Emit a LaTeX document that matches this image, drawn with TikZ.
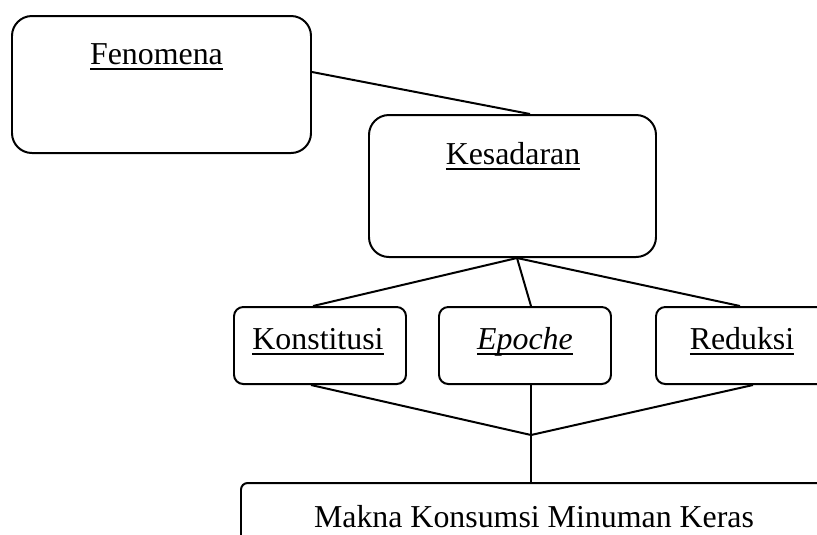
\documentclass[tikz,border=0pt]{standalone}
\usepackage{fontspec}
\setmainfont{Liberation Serif}
\usetikzlibrary{fit,calc}

\newcommand\ulword[1]{\setbox0\hbox{#1}\rlap{\rule[-2.1pt]{\wd0}{0.55pt}}\box0}

\tikzset{
	box/.style={draw, inner sep=0pt, rounded corners=7.5pt},
	smallbox/.style={box, rounded corners=3.5pt},
	lbl/.style={anchor=base, inner sep=0pt, font=\fontsize{12}{14}\selectfont},
}

\begin{document}
\begin{tikzpicture}[x=0.3765pt, y=-0.3765pt, line width=0.75pt]
		\useasboundingbox (0,0) rectangle (817,534);
		\clip (0,0) rectangle (817,534);
		% boxes
		\node[box, fit={(12,16) (311,153)}] (fen) {};
		\node[box, fit={(369,115) (656,257)}] (kes) {};
		\node[smallbox, fit={(234,307) (406,384)}] (kon) {};
		\node[smallbox, fit={(439,307) (611,384)}] (epo) {};
		\node[smallbox, fit={(656,307) (828,384)}] (red) {};
		\node[smallbox, rounded corners=2.5pt, fit={(241,483) (827,600)}] (mak) {};
		% texts
		\node[lbl] (fentext) at (156.5,64) {\ulword{Fenomena}};
		\node[lbl] (kestext) at (513,164) {\ulword{Kesadaran}};
		\node[lbl] (kontext) at (318,349) {\ulword{Konstitusi}};
		\node[lbl] (epotext) at (525,349) {\ulword{\textit{Epoche}}};
		\node[lbl] (redtext) at (742,349) {\ulword{Reduksi}};
		\node[lbl] (maktext) at (534,527) {Makna Konsumsi Minuman Keras};
		% connectors
		\coordinate (fenout) at ($(fen.north east)!0.41!(fen.south east)$);
		\coordinate (kesin) at ($(kes.north)+(17.5,0)$);
		\coordinate (kesout) at ($(kes.south)+(4.5,0)$);
		\coordinate (konin) at ($(kon.north)+(-7,0)$);
		\coordinate (epoin) at ($(epo.north)+(6,0)$);
		\coordinate (redin) at ($(red.north)+(-2,0)$);
		\coordinate (konout) at ($(kon.south)+(-9,0)$);
		\coordinate (epoout) at ($(epo.south)+(6,0)$);
		\coordinate (redout) at ($(red.south)+(11,0)$);
		\coordinate (join) at (epoout |- 0,435);
		\coordinate (makin) at (epoout |- mak.north);
		\draw (fenout)--(kesin);
		\draw (kesout)--(konin);
		\draw (kesout)--(epoin);
		\draw (kesout)--(redin);
		\draw (konout)--(join)--(redout);
		\draw (epoout)--(makin);
	\end{tikzpicture}
\end{document}
